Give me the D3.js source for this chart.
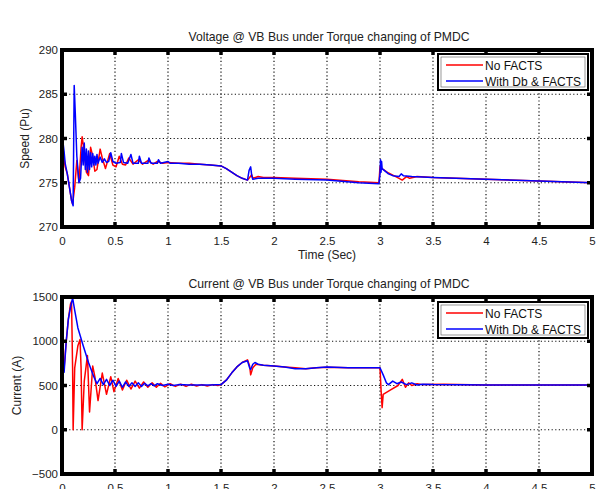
<!DOCTYPE html>
<html><head><meta charset="utf-8">
<script src="https://cdn.jsdelivr.net/npm/d3@7"></script>
<style>body{margin:0;background:#fff}svg{display:block;font-family:"Liberation Sans",Arial,sans-serif}</style>
</head><body><svg id="c" width="600" height="489"></svg>
<script>
const seriesNames = ["No FACTS", "With Db & FACTS"];
const xTicks = [0, 0.5, 1, 1.5, 2, 2.5, 3, 3.5, 4, 4.5, 5];
const voltTicks = [270, 275, 280, 285, 290];
const currTicks = [-500, 0, 500, 1000, 1500];

// Voltage @ VB Bus : [time, value]
const voltRed = [[0,279.2],[0.01,278.5],[0.03,276.8],[0.05,276.0],[0.07,274.5],[0.09,273.0],[0.1,272.6],[0.12,274.5],[0.14,277.5],[0.16,275.0],[0.18,279.0],[0.19,280.2],[0.21,278.5],[0.23,276.2],[0.25,275.8],[0.27,279.0],[0.29,278.0],[0.31,276.3],[0.33,276.5],[0.36,278.8],[0.38,277.8],[0.41,276.6],[0.45,278.3],[0.48,277.0],[0.51,276.8],[0.54,278.0],[0.57,277.1],[0.6,277.0],[0.63,277.8],[0.67,277.1],[0.72,277.6],[0.76,277.1],[0.81,277.5],[0.86,277.1],[0.9,277.4],[0.95,277.2],[1.0,277.3],[1.1,277.2],[1.2,277.2],[1.3,277.1],[1.4,277.0],[1.5,276.9],[1.55,276.6],[1.6,276.2],[1.65,275.8],[1.7,275.5],[1.75,275.3],[1.77,275.6],[1.79,275.9],[1.8,275.5],[1.85,275.7],[1.9,275.6],[2.0,275.6],[2.2,275.5],[2.5,275.4],[2.8,275.1],[2.99,275.0],[3.0,276.8],[3.03,276.5],[3.08,276.1],[3.13,275.8],[3.18,275.5],[3.21,275.3],[3.25,275.7],[3.28,275.5],[3.35,275.7],[3.5,275.6],[4.0,275.4],[4.5,275.2],[5.0,275.0]];
const voltBlue = [[0,280.5],[0.01,279.5],[0.02,278.5],[0.03,277.2],[0.05,276.0],[0.07,274.5],[0.09,273.0],[0.105,272.4],[0.115,286.0],[0.125,283.0],[0.14,278.0],[0.16,275.0],[0.175,275.5],[0.19,279.0],[0.2,277.0],[0.21,279.5],[0.22,276.5],[0.23,278.8],[0.24,276.2],[0.25,278.6],[0.26,276.5],[0.27,278.4],[0.28,276.8],[0.29,278.3],[0.3,277.0],[0.31,278.0],[0.32,277.0],[0.33,278.2],[0.34,277.2],[0.36,277.9],[0.38,277.3],[0.4,277.7],[0.42,277.3],[0.44,277.4],[0.46,278.4],[0.48,277.4],[0.51,277.2],[0.55,277.3],[0.56,278.3],[0.58,277.3],[0.62,277.2],[0.65,278.2],[0.67,277.2],[0.72,277.2],[0.73,278.0],[0.75,277.2],[0.81,277.2],[0.82,277.8],[0.84,277.2],[0.9,277.2],[0.91,277.6],[0.93,277.2],[1.0,277.4],[1.02,277.2],[1.1,277.2],[1.2,277.1],[1.3,277.1],[1.4,277.0],[1.5,276.9],[1.55,276.6],[1.6,276.2],[1.65,275.8],[1.7,275.5],[1.75,275.3],[1.765,276.4],[1.78,276.8],[1.79,275.8],[1.8,275.4],[1.85,275.5],[2.0,275.5],[2.2,275.4],[2.5,275.3],[2.8,275.0],[2.99,274.9],[3.0,276.0],[3.005,277.6],[3.01,276.2],[3.015,277.4],[3.02,276.6],[3.04,276.4],[3.08,276.0],[3.12,275.8],[3.18,275.7],[3.2,276.0],[3.22,275.8],[3.3,275.7],[3.5,275.6],[4.0,275.4],[4.5,275.2],[5.0,275.0]];

// Current @ VB Bus : [time, value]
const currRed = [[0,0],[0.01,650],[0.02,700],[0.04,1000],[0.06,1250],[0.08,1420],[0.09,1450],[0.1,700],[0.105,0],[0.12,700],[0.15,950],[0.17,1020],[0.18,700],[0.19,0],[0.21,550],[0.24,840],[0.26,200],[0.29,720],[0.31,600],[0.34,330],[0.38,640],[0.42,400],[0.46,600],[0.49,430],[0.53,580],[0.57,450],[0.61,560],[0.65,460],[0.69,550],[0.73,470],[0.77,540],[0.81,480],[0.85,530],[0.89,480],[0.93,525],[0.97,485],[1.02,520],[1.07,490],[1.12,515],[1.17,490],[1.22,515],[1.27,495],[1.32,510],[1.37,495],[1.42,510],[1.47,500],[1.5,510],[1.55,560],[1.6,640],[1.65,710],[1.7,760],[1.75,790],[1.77,720],[1.78,620],[1.8,700],[1.83,740],[1.9,730],[2.0,720],[2.1,710],[2.2,700],[2.3,690],[2.4,700],[2.5,705],[2.7,700],[2.9,700],[3.0,700],[3.01,450],[3.02,250],[3.03,400],[3.1,450],[3.17,500],[3.21,570],[3.24,480],[3.27,530],[3.3,500],[3.35,520],[3.4,510],[3.6,515],[4.0,505],[4.5,505],[5.0,505]];
const currBlue = [[0,0],[0.005,400],[0.01,720],[0.02,650],[0.04,1000],[0.06,1250],[0.08,1380],[0.1,1490],[0.12,1350],[0.15,1150],[0.2,950],[0.25,760],[0.3,600],[0.33,520],[0.36,580],[0.39,510],[0.42,570],[0.45,500],[0.48,560],[0.51,490],[0.54,550],[0.57,480],[0.6,540],[0.63,490],[0.66,530],[0.69,490],[0.72,530],[0.75,490],[0.78,525],[0.81,495],[0.84,520],[0.87,495],[0.9,520],[0.95,500],[1.0,515],[1.05,500],[1.1,510],[1.2,505],[1.3,505],[1.4,505],[1.5,510],[1.55,560],[1.6,640],[1.65,710],[1.7,760],[1.75,780],[1.77,700],[1.78,680],[1.8,740],[1.82,760],[1.85,740],[1.9,730],[2.0,720],[2.1,710],[2.2,690],[2.3,690],[2.4,700],[2.5,710],[2.7,700],[2.9,700],[3.0,700],[3.03,620],[3.06,530],[3.08,510],[3.12,550],[3.16,520],[3.2,540],[3.25,510],[3.3,530],[3.35,505],[3.4,515],[3.5,510],[4.0,505],[4.5,505],[5.0,505]];

const svg = d3.select("#c");
const colors = ["#ff0000", "#0000ff"];
const x = d3.scaleLinear().domain([0, 5]).range([62, 592]);

function panel(o) {
  const y = d3.scaleLinear().domain(o.domain).range([o.bottom, o.top]);
  const g = svg.append("g");
  // grid
  g.selectAll(".gx").data(xTicks.slice(1, -1)).join("line")
    .attr("x1", d => x(d)).attr("x2", d => x(d)).attr("y1", o.top).attr("y2", o.bottom)
    .attr("stroke", "#111").attr("stroke-width", 1.2).attr("stroke-dasharray", "1.2,2.4");
  g.selectAll(".gy").data(o.ticks.slice(1, -1)).join("line")
    .attr("y1", d => y(d)).attr("y2", d => y(d)).attr("x1", 62).attr("x2", 592)
    .attr("stroke", "#111").attr("stroke-width", 1.2).attr("stroke-dasharray", "1.2,2.4");
  // lines
  const line = d3.line().x(d => x(d[0])).y(d => y(d[1]));
  o.series.forEach((s, i) => {
    g.append("path").attr("d", line(s)).attr("fill", "none")
      .attr("stroke", colors[i]).attr("stroke-width", 1.5).attr("stroke-linejoin", "round");
  });
  // axes with inward ticks
  const ax = d3.axisBottom(x).tickValues(xTicks).tickSize(0).tickPadding(10).tickFormat(d3.format(""));
  const ga = g.append("g").attr("transform", `translate(0,${o.bottom})`).call(ax);
  ga.select(".domain").remove();
  ga.selectAll("text").attr("font-size", 11.5).attr("fill", "#222").attr("font-family", "Liberation Sans, Arial, sans-serif");
  const ay = d3.axisLeft(y).tickValues(o.ticks).tickSize(0).tickPadding(4).tickFormat(d3.format(""));
  const gy = g.append("g").attr("transform", `translate(62,0)`).call(ay);
  gy.select(".domain").remove();
  gy.selectAll("text").attr("font-size", 11.5).attr("fill", "#222").attr("font-family", "Liberation Sans, Arial, sans-serif");
  // tick marks (inside)
  const tm = g.append("g").attr("stroke", "#000").attr("stroke-width", 3.5);
  xTicks.forEach(t => {
    tm.append("line").attr("x1", x(t)).attr("x2", x(t)).attr("y1", o.bottom).attr("y2", o.bottom - 5);
    tm.append("line").attr("x1", x(t)).attr("x2", x(t)).attr("y1", o.top).attr("y2", o.top + 5);
  });
  o.ticks.forEach(t => {
    tm.append("line").attr("y1", y(t)).attr("y2", y(t)).attr("x1", 62).attr("x2", 67);
    tm.append("line").attr("y1", y(t)).attr("y2", y(t)).attr("x1", 592).attr("x2", 587);
  });
  // frame
  g.append("rect").attr("x", 62).attr("y", o.top).attr("width", 530).attr("height", o.bottom - o.top)
    .attr("fill", "none").attr("stroke", "#000").attr("stroke-width", 4);
  // title
  g.append("text").attr("x", 329).attr("y", o.top - 9).attr("text-anchor", "middle")
    .attr("font-size", 12.2).attr("fill", "#222").text(o.title);
  // y label
  g.append("text").attr("transform", `translate(${o.ylx},${(o.top + o.bottom) / 2}) rotate(-90)`)
    .attr("text-anchor", "middle").attr("font-size", 12).attr("fill", "#222").text(o.ylabel);
  if (o.xlabel) {
    g.append("text").attr("x", 327).attr("y", o.bottom + 32).attr("text-anchor", "middle")
      .attr("font-size", 12).attr("fill", "#222").text(o.xlabel);
  }
  // legend
  const lg = g.append("g");
  lg.append("rect").attr("x", 438).attr("y", o.legTop).attr("width", 150).attr("height", 36)
    .attr("fill", "#fff").attr("stroke", "#000").attr("stroke-width", 2);
  lg.append("rect").attr("x", 441).attr("y", o.legTop + 3).attr("width", 144).attr("height", 30)
    .attr("fill", "none").attr("stroke", "#555").attr("stroke-width", 0.6);
  seriesNames.forEach((n, i) => {
    const yy = o.legTop + 11 + i * 16;
    lg.append("line").attr("x1", 446).attr("x2", 483).attr("y1", yy).attr("y2", yy)
      .attr("stroke", colors[i]).attr("stroke-width", 1.5);
    lg.append("text").attr("x", 485).attr("y", yy + 4.5).attr("font-size", 12).attr("fill", "#111").text(n);
  });
}

panel({top: 50, bottom: 227, domain: [270, 290], ticks: voltTicks, series: [voltRed, voltBlue],
  title: "Voltage @ VB Bus under Torque changing of PMDC", ylabel: "Speed (Pu)", ylx: 29, xlabel: "Time (Sec)", legTop: 54});
panel({top: 297, bottom: 474, domain: [-500, 1500], ticks: currTicks, series: [currRed, currBlue],
  title: "Current @ VB Bus under Torque changing of PMDC", ylabel: "Current (A)", ylx: 21, xlabel: null, legTop: 302});
</script></body></html>
